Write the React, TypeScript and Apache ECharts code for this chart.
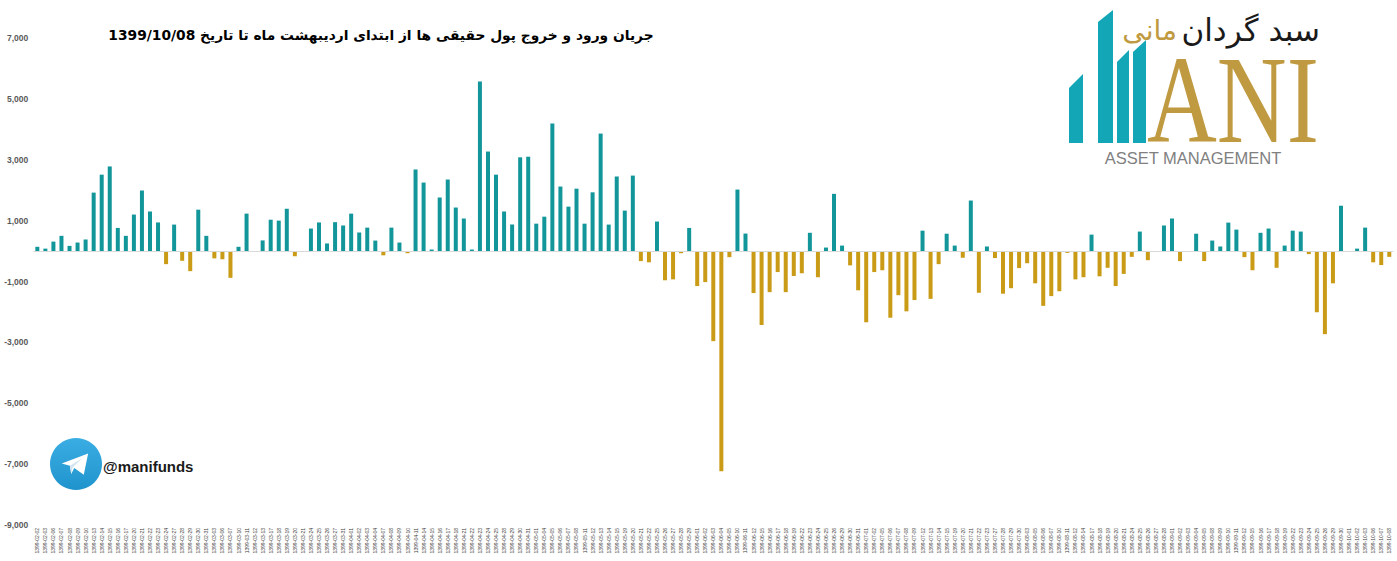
import React, { useEffect, useRef } from "react";
import * as echarts from "echarts";

const categories: string[] = [
  "1399-02-02", "1399-02-03", "1399-02-06", "1399-02-07", "1399-02-08", "1399-02-09", "1399-02-10", "1399-02-13", "1399-02-14", "1399-02-15", "1399-02-16", "1399-02-17", "1399-02-20", "1399-02-21", "1399-02-22", "1399-02-23", "1399-02-24", "1399-02-27", "1399-02-28", "1399-02-29", "1399-02-30", "1399-02-31",
  "1399-03-03", "1399-03-06", "1399-03-07", "1399-03-10", "1399-03-11", "1399-03-12", "1399-03-13", "1399-03-17", "1399-03-18", "1399-03-19", "1399-03-20", "1399-03-21", "1399-03-24", "1399-03-25", "1399-03-26", "1399-03-27", "1399-03-31",
  "1399-04-01", "1399-04-02", "1399-04-03", "1399-04-04", "1399-04-07", "1399-04-08", "1399-04-09", "1399-04-10", "1399-04-11", "1399-04-14", "1399-04-15", "1399-04-16", "1399-04-17", "1399-04-18", "1399-04-21", "1399-04-22", "1399-04-23", "1399-04-24", "1399-04-25", "1399-04-28", "1399-04-29", "1399-04-30", "1399-04-31",
  "1399-05-01", "1399-05-04", "1399-05-05", "1399-05-06", "1399-05-07", "1399-05-08", "1399-05-11", "1399-05-12", "1399-05-13", "1399-05-14", "1399-05-15", "1399-05-19", "1399-05-20", "1399-05-21", "1399-05-22", "1399-05-25", "1399-05-26", "1399-05-27", "1399-05-28", "1399-05-29",
  "1399-06-01", "1399-06-02", "1399-06-03", "1399-06-04", "1399-06-05", "1399-06-10", "1399-06-11", "1399-06-12", "1399-06-15", "1399-06-16", "1399-06-17", "1399-06-18", "1399-06-19", "1399-06-22", "1399-06-23", "1399-06-24", "1399-06-25", "1399-06-26", "1399-06-29", "1399-06-30", "1399-06-31",
  "1399-07-01", "1399-07-02", "1399-07-05", "1399-07-06", "1399-07-07", "1399-07-08", "1399-07-09", "1399-07-12", "1399-07-13", "1399-07-14", "1399-07-15", "1399-07-19", "1399-07-20", "1399-07-21", "1399-07-22", "1399-07-23", "1399-07-27", "1399-07-28", "1399-07-29", "1399-07-30",
  "1399-08-03", "1399-08-05", "1399-08-06", "1399-08-07", "1399-08-10", "1399-08-11", "1399-08-12", "1399-08-14", "1399-08-17", "1399-08-18", "1399-08-19", "1399-08-20", "1399-08-21", "1399-08-24", "1399-08-25", "1399-08-26", "1399-08-27", "1399-08-28",
  "1399-09-01", "1399-09-02", "1399-09-03", "1399-09-04", "1399-09-05", "1399-09-08", "1399-09-09", "1399-09-10", "1399-09-11", "1399-09-12", "1399-09-15", "1399-09-16", "1399-09-17", "1399-09-18", "1399-09-19", "1399-09-22", "1399-09-23", "1399-09-24", "1399-09-25", "1399-09-26", "1399-09-29", "1399-09-30",
  "1399-10-01", "1399-10-02", "1399-10-03", "1399-10-06", "1399-10-07", "1399-10-08",
];

const flows: number[] = [
  140, 80, 310, 500, 170, 280, 380, 1920, 2510, 2780,
  760, 500, 1200, 1990, 1300, 940, -430, 870, -320, -660,
  1360, 500, -240, -270, -880, 140, 1230, -30, 350, 1030,
  1000, 1390, -170, 0, 740, 940, 250, 950, 840, 1230,
  610, 770, 345, -140, 770, 280, -70, 2680, 2250, 50,
  1760, 2350, 1430, 1070, 50, 5570, 3270, 2510, 1300, 870,
  3080, 3100, 900, 1130, 4190, 2120, 1460, 2050, 900, 1930,
  3860, 870, 2450, 1330, 2480, -330, -370, 970, -960, -930,
  -70, 760, -1150, -1020, -2960, -7230, -200, 2020, 575, -1380,
  -2430, -1350, -690, -1350, -820, -730, 600, -860, 115, 1880,
  180, -470, -1290, -2340, -690, -630, -2190, -1450, -1980, -1610,
  670, -1570, -430, 570, 180, -220, 1660, -1370, 150, -230,
  -1400, -1220, -560, -400, -1060, -1800, -1480, -1320, -60, -930,
  -860, 540, -830, -550, -1150, -750, -190, 640, -300, -30,
  840, 1070, -330, 0, 570, -330, 345, 150, 935, 705,
  -200, -630, 600, 740, -550, 180, 670, 640, -100, -2010,
  -2730, -1060, 1490, 0, 80, 770, -370, -460, -190,
];

const yMin = -9000;
const yMax = 7000;
const yStep = 2000;

const TITLE = "جریان ورود و خروج پول حقیقی ها از ابتدای اردیبهشت ماه تا تاریخ 1399/10/08";
const BRAND_DARK = "سبد گردان";
const BRAND_GOLD = "مانی";

const TEAL = "#12969a";
const GOLD = "#c99b16";
const LOGO_TEAL = "#12a6b6";
const LOGO_GOLD = "#c09a40";

export default function App() {
  const ref = useRef<HTMLDivElement>(null);

  useEffect(() => {
    if (!ref.current) return;
    const chart = echarts.init(ref.current, undefined, { renderer: "svg" });

    const cx = 76, cy = 464, s = 26 / 120;
    const pt = (px: number, py: number) => [cx + (px - 120) * s, cy + (py - 120) * s];

    const option: any = {
      animation: false,
      backgroundColor: "#ffffff",
      grid: { left: 33.3, right: 3.7, top: 38, bottom: 36, containLabel: false },
      xAxis: {
        type: "category",
        data: categories,
        position: "bottom",
        axisLine: { show: false, onZero: false },
        axisTick: { show: false },
        axisLabel: {
          interval: 0,
          rotate: 90,
          fontSize: 5,
          color: "#404040",
          margin: 3,
          fontFamily: "Liberation Sans",
        },
      },
      yAxis: {
        type: "value",
        min: yMin,
        max: yMax,
        interval: yStep,
        axisLine: { show: false },
        axisTick: { show: false },
        splitLine: { show: false },
        axisLabel: {
          fontSize: 8.5,
          fontWeight: "bold",
          color: "#595959",
          margin: 5,
          fontFamily: "Liberation Sans",
          formatter: (v: number) => v.toLocaleString("en-US"),
        },
      },
      series: [
        {
          type: "bar",
          data: flows,
          barWidth: 4,
          itemStyle: {
            color: (p: any) => (p.value >= 0 ? TEAL : GOLD),
          },
          markLine: {
            silent: true,
            symbol: ["none", "none"],
            label: { show: false },
            lineStyle: { color: "#d9d9d9", width: 1, type: "solid" },
            data: [{ yAxis: 0 }],
          },
        },
      ],
      graphic: [
        {
          type: "text",
          x: 381,
          y: 35,
          silent: true,
          style: {
            text: "\u202B" + TITLE + "\u202C",
            fontSize: 13.8,
            fontWeight: "bold",
            fontFamily: "DejaVu Sans",
            fill: "#000000",
            textAlign: "center",
            textVerticalAlign: "middle",
          },
        },
        // logo bars
        { type: "polygon", silent: true, shape: { points: [[1069, 88], [1083, 74], [1083, 143], [1069, 143]] }, style: { fill: LOGO_TEAL } },
        { type: "polygon", silent: true, shape: { points: [[1098, 22], [1113, 10], [1113, 143], [1098, 143]] }, style: { fill: LOGO_TEAL } },
        { type: "polygon", silent: true, shape: { points: [[1117, 62], [1129, 50], [1129, 143], [1117, 143]] }, style: { fill: LOGO_TEAL } },
        { type: "polygon", silent: true, shape: { points: [[1133, 52], [1146, 40], [1146, 143], [1133, 143]] }, style: { fill: LOGO_TEAL } },
        {
          type: "text",
          x: 1147,
          y: 162,
          scaleX: 0.78,
          silent: true,
          style: {
            text: "ANI",
            fontSize: 124,
            fontFamily: "Liberation Serif",
            fill: LOGO_GOLD,
            textAlign: "left",
            textVerticalAlign: "bottom",
          },
        },
        {
          type: "text",
          x: 1193,
          y: 158,
          silent: true,
          style: {
            text: "ASSET MANAGEMENT",
            fontSize: 16.5,
            fontFamily: "Liberation Sans",
            fill: "#808080",
            textAlign: "center",
            textVerticalAlign: "middle",
          },
        },
        {
          type: "text",
          x: 1320,
          y: 30,
          silent: true,
          style: {
            text: BRAND_DARK,
            fontSize: 31,
            fontFamily: "DejaVu Sans",
            fill: "#1a1a1a",
            textAlign: "right",
            textVerticalAlign: "middle",
          },
        },
        {
          type: "text",
          x: 1177,
          y: 30,
          silent: true,
          style: {
            text: BRAND_GOLD,
            fontSize: 28,
            fontFamily: "DejaVu Sans",
            fill: LOGO_GOLD,
            textAlign: "right",
            textVerticalAlign: "middle",
          },
        },
        // telegram
        {
          type: "circle",
          silent: true,
          shape: { cx, cy, r: 26 },
          style: {
            fill: new echarts.graphic.LinearGradient(0, 0, 0, 1, [
              { offset: 0, color: "#3aaee3" },
              { offset: 1, color: "#1f93cc" },
            ]),
          },
        },
        {
          type: "polygon",
          silent: true,
          shape: { points: [pt(54, 118), pt(176, 72), pt(156, 170), pt(112, 138), pt(98, 166), pt(92, 128)] },
          style: { fill: "#ffffff" },
        },
        {
          type: "polygon",
          silent: true,
          shape: { points: [pt(92, 128), pt(150, 92), pt(104, 136), pt(98, 166)] },
          style: { fill: "#d2e5f1" },
        },
        {
          type: "text",
          x: 103,
          y: 466,
          silent: true,
          style: {
            text: "@manifunds",
            fontSize: 15,
            fontWeight: "bold",
            fontFamily: "Liberation Sans",
            fill: "#1a1a1a",
            textAlign: "left",
            textVerticalAlign: "middle",
          },
        },
      ],
    };

    chart.setOption(option);
    return () => chart.dispose();
  }, []);

  return (
    <div
      ref={ref}
      style={{ position: "fixed", left: 0, top: 0, width: 1397, height: 561, background: "#fff" }}
    />
  );
}
